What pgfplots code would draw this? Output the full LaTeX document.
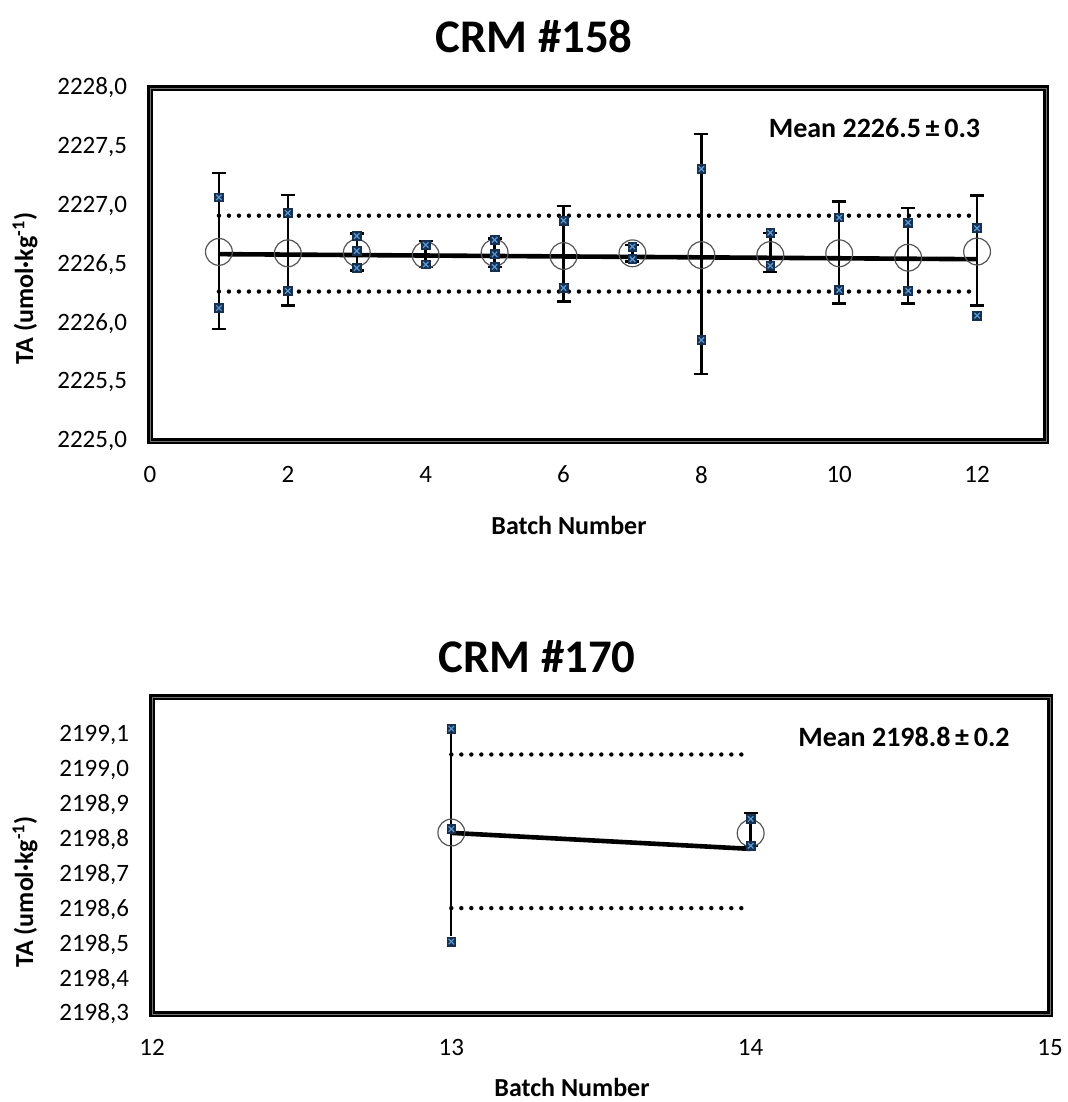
\documentclass[border=0pt]{standalone}
\usepackage{pgfplots}
\pgfplotsset{compat=1.18}
\usepackage{pgfplotstable}
\usepackage{fontspec}
\setmainfont{Carlito}

\definecolor{ptfill}{HTML}{18304F}
\definecolor{ptcross}{HTML}{5B9BD5}
\definecolor{ringgray}{HTML}{555555}

% CRM #158: batch mean with upper/lower error extents
\pgfplotstableread{
x mean ep em
1  2226.607 0.671 0.655
2  2226.595 0.496 0.445
3  2226.600 0.165 0.150
4  2226.580 0.120 0.100
5  2226.600 0.120 0.120
6  2226.572 0.425 0.387
7  2226.595 0.070 0.070
8  2226.580 1.029 1.010
9  2226.580 0.190 0.146
10 2226.595 0.439 0.425
11 2226.558 0.420 0.388
12 2226.610 0.475 0.460
}\crmAmean

% CRM #158: individual bottle results
\pgfplotstableread{
x y
1  2227.070
1  2226.130
2  2226.938
2  2226.275
3  2226.742
3  2226.615
3  2226.470
4  2226.666
4  2226.500
5  2226.710
5  2226.587
5  2226.480
6  2226.873
6  2226.300
7  2226.652
7  2226.545
8  2227.312
8  2225.858
9  2226.770
9  2226.490
10 2226.900
10 2226.283
11 2226.856
11 2226.277
12 2226.808
12 2226.065
}\crmApts

% CRM #170: individual bottle results
\pgfplotstableread{
x y
13 2199.119
13 2198.831
13 2198.508
14 2198.860
14 2198.783
}\crmBpts

\pgfplotsset{
  crm/.style={
    scale only axis,
    axis line style={draw=black, line width=1.05pt, double=black!55, double distance=0.45pt},
    tick style={draw=none},
    /pgf/number format/assume math mode=true,
    ticklabel style={font=\fontsize{12.5}{14}\selectfont},
    yticklabel style={
      /pgf/number format/fixed,
      /pgf/number format/fixed zerofill,
      /pgf/number format/precision=1,
      /pgf/number format/use comma,
      /pgf/number format/1000 sep={},
      xshift=-8pt},
    xticklabel style={yshift=-9pt},
    clip=false,
  },
  pts/.style={only marks, mark=square*, mark size=2.2pt, mark options={fill=ptfill, draw=ptfill}},
  ptx/.style={only marks, mark=x, mark size=1.9pt, mark options={draw=ptcross, line width=0.6pt}},
  ring/.style={only marks, mark=o, mark size=6.7pt, mark options={draw=ringgray, line width=0.6pt}},
  ebar/.style={draw=none, mark=none, forget plot,
    error bars/.cd, y dir=both, y explicit,
    error bar style={draw=black, line width=1.2pt},
    error mark options={draw=black, mark size=3.5pt, line width=1.2pt, rotate=90}},
  trend/.style={black, line width=2.3pt, no marks},
  band/.style={black, line width=2.2pt, line cap=round, dash pattern=on 0pt off 5pt, no marks},
}

\begin{document}
\begin{tikzpicture}
\useasboundingbox (-75pt,-330.5pt) rectangle (459pt,220.5pt);

% ---------------- CRM #158 ----------------
\begin{axis}[crm,
  at={(0pt,0pt)}, anchor=south west,
  width=448pt, height=176.5pt,
  xmin=0, xmax=13, ymin=2225, ymax=2228,
  xtick={0,2,...,12},
  ytick={2225,2225.5,...,2228},
]
\addplot[band] coordinates {(1,2226.915) (12,2226.915)};
\addplot[band] coordinates {(1,2226.270) (12,2226.270)};
\addplot[trend] coordinates {(1,2226.588) (12,2226.545)};
\addplot[ring] table[x=x, y=mean] {\crmAmean};
\addplot[ebar] table[x=x, y=mean, y error plus=ep, y error minus=em] {\crmAmean};
\addplot[pts] table[x=x, y=y] {\crmApts};
\addplot[ptx] table[x=x, y=y] {\crmApts};
\end{axis}

% ---------------- CRM #170 ----------------
\begin{axis}[crm,
  at={(1pt,-286.5pt)}, anchor=south west,
  width=449pt, height=158.5pt,
  xmin=12, xmax=15, ymin=2198.3, ymax=2199.21,
  xtick={12,13,14,15},
  ytick={2198.3,2198.4,2198.5,2198.6,2198.7,2198.8,2198.9,2199.0,2199.1},
]
\addplot[band] coordinates {(13,2199.045) (14,2199.045)};
\addplot[band] coordinates {(13,2198.604) (14,2198.604)};
\addplot[trend] coordinates {(13,2198.820) (14,2198.774)};
\addplot[ring] coordinates {(13,2198.821) (14,2198.819)};
\addplot[draw=none, mark=none, forget plot,
  error bars/.cd, y dir=both, y explicit, error mark=none,
  error bar style={draw=black, line width=1pt}]
  coordinates {(13,2198.821) +- (0,0.298)};
\addplot[ebar] coordinates {(14,2198.819) += (0,0.058) -= (0,0.036)};
\addplot[pts] table[x=x, y=y] {\crmBpts};
\addplot[ptx] table[x=x, y=y] {\crmBpts};
\end{axis}

% titles and labels
\node[font=\bfseries\fontsize{23.4}{28}\selectfont] at (192pt,202pt) {CRM \#158};
\node[font=\bfseries\fontsize{23.4}{28}\selectfont] at (193.5pt,-108pt) {CRM \#170};
\node[font=\bfseries\fontsize{13}{15}\selectfont] at (209.5pt,-42pt) {Batch Number};
\node[font=\bfseries\fontsize{13}{15}\selectfont] at (211pt,-323pt) {Batch Number};
\node[rotate=90, font=\bfseries\fontsize{13}{15}\selectfont] at (-62.5pt,76.25pt) {TA (umol·kg\textsuperscript{-1})};
\node[rotate=90, font=\bfseries\fontsize{13}{15}\selectfont] at (-62.5pt,-225.4pt) {TA (umol·kg\textsuperscript{-1})};
\node[font=\bfseries\fontsize{14}{16}\selectfont] at (362.25pt,156.5pt) {Mean 2226.5\,±\,0.3};
\node[font=\bfseries\fontsize{14}{16}\selectfont] at (377pt,-148pt) {Mean 2198.8\,±\,0.2};
\end{tikzpicture}
\end{document}
